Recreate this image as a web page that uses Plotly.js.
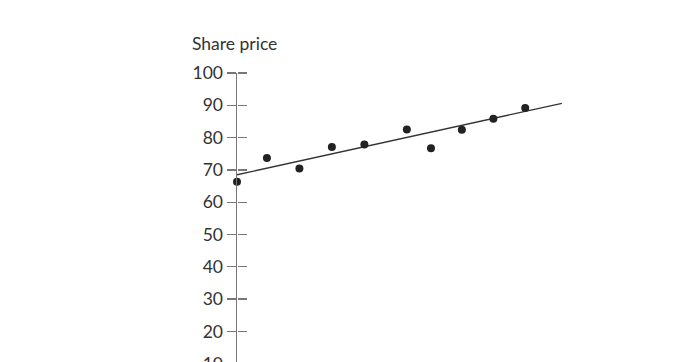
<!DOCTYPE html>
<html><head><meta charset="utf-8">
<script src="https://cdn.plot.ly/plotly-3.0.1.min.js"></script>
<style>html,body{margin:0;padding:0;overflow:hidden;background:#fff;}#chart{width:691px;height:460px;}</style>
</head><body><div id="chart"></div>
<script>
var periods = [0, 0.93, 1.94, 2.95, 3.96, 5.28, 6.03, 6.99, 7.97, 8.96];
var sharePrice = [66.3, 73.7, 70.4, 77.1, 77.9, 82.5, 76.7, 82.4, 85.8, 89.2];
var trendX = [0, 10.1];
var trendY = [68.5, 90.6];
var yTicks = [0, 10, 20, 30, 40, 50, 60, 70, 80, 90, 100];
var yTitle = 'Share price';

var fontFam = 'Lato, "Open Sans", sans-serif';
var data = [
  {x: trendX, y: trendY, mode: 'lines', line: {color: '#333', width: 1.3}, hoverinfo: 'skip', showlegend: false},
  {x: periods, y: sharePrice, mode: 'markers', marker: {color: '#222', size: 8}, showlegend: false, cliponaxis: false},
  {x: [0], y: [0], yaxis: 'y2', mode: 'markers', marker: {opacity: 0}, hoverinfo: 'skip', showlegend: false}
];
var layout = {
  width: 691, height: 460,
  margin: {l: 236.7, r: 68, t: 73, b: 64},
  paper_bgcolor: '#fff', plot_bgcolor: '#fff',
  font: {family: fontFam, color: '#333', size: 17},
  xaxis: {range: [0, 12], visible: false, showgrid: false, zeroline: false},
  yaxis: {range: [0, 100], tickvals: yTicks, ticks: 'outside', ticklen: 9, tickwidth: 1.3, tickcolor: '#777',
          showline: true, linecolor: '#777', linewidth: 1.5, showgrid: false, zeroline: false,
          tickfont: {family: fontFam, size: 17.5, color: '#333'}},
  yaxis2: {range: [0, 100], tickvals: yTicks, ticks: 'outside', ticklen: 9, tickwidth: 1.3, tickcolor: '#777',
           overlaying: 'y', side: 'right', anchor: 'free', position: 0,
           showticklabels: false, showline: false, showgrid: false, zeroline: false},
  annotations: [{text: yTitle, xref: 'paper', yref: 'paper', x: 0, y: 1, xanchor: 'left', yanchor: 'middle',
                 xshift: -47.5, yshift: 30, showarrow: false, font: {family: fontFam, size: 17.5, color: '#333'}}]
};
Plotly.newPlot('chart', data, layout, {displayModeBar: false, staticPlot: true});
</script></body></html>
